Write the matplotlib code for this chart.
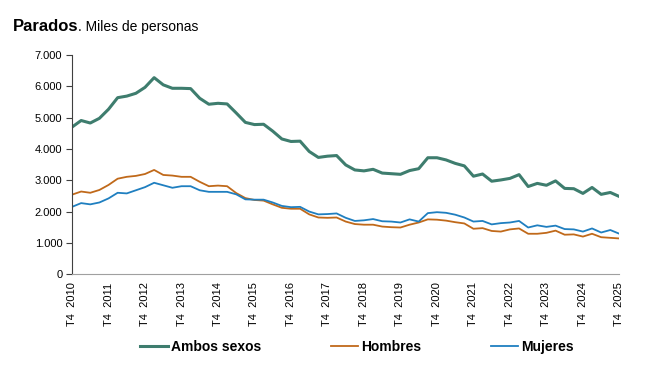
import numpy as np
import matplotlib
matplotlib.use("Agg")
import matplotlib.pyplot as plt
from matplotlib.ticker import FuncFormatter

plt.rcParams['font.family'] = ['Liberation Sans', 'DejaVu Sans']

# Parados, miles de personas, trimestral T4 2010 - T4 2025
ambos = [4700, 4910, 4830, 4980, 5270, 5640, 5690, 5780, 5970, 6280,
         6050, 5940, 5940, 5930, 5620, 5430, 5460, 5440, 5150, 4850,
         4780, 4790, 4570, 4320, 4240, 4250, 3920, 3730, 3770, 3790,
         3490, 3330, 3300, 3350, 3230, 3210, 3190, 3310, 3370, 3720,
         3720, 3650, 3540, 3460, 3130, 3200, 2970, 3010, 3060, 3180,
         2800, 2900, 2840, 2980, 2740, 2730, 2580, 2770, 2550, 2610, 2480]
hombres = [2540, 2640, 2600, 2690, 2850, 3050, 3110, 3140, 3200, 3330,
           3170, 3150, 3110, 3110, 2950, 2810, 2830, 2810, 2590, 2430,
           2370, 2350, 2230, 2120, 2090, 2090, 1910, 1810, 1800, 1810,
           1680, 1600, 1580, 1580, 1520, 1500, 1490, 1580, 1650, 1750,
           1740, 1710, 1660, 1620, 1450, 1470, 1380, 1360, 1430, 1460,
           1290, 1290, 1320, 1390, 1260, 1270, 1200, 1290, 1180, 1160, 1140]
mujeres = [2150, 2270, 2230, 2290, 2420, 2600, 2580, 2680, 2780, 2920,
           2840, 2760, 2810, 2810, 2680, 2630, 2630, 2630, 2550, 2390,
           2380, 2380, 2290, 2180, 2140, 2150, 2000, 1910, 1920, 1940,
           1800, 1700, 1720, 1760, 1690, 1680, 1650, 1750, 1680, 1950,
           1980, 1960, 1900, 1810, 1680, 1700, 1590, 1630, 1650, 1700,
           1490, 1560, 1510, 1550, 1440, 1430, 1360, 1460, 1330, 1410, 1290]
years = list(range(2010, 2026))
tick_labels = ["T4  %d" % y for y in years]

x = np.arange(len(ambos))

fig = plt.figure(figsize=(6.7, 3.75), dpi=100)
ax = fig.add_axes([0.1075, 0.269, 0.817, 0.584])

c_ambos = '#3E7D6E'
c_hom = '#C0691A'
c_muj = '#1F7FC0'

ax.plot(x, ambos, color=c_ambos, lw=2.2, label='Ambos sexos', solid_joinstyle='round')
ax.plot(x, hombres, color=c_hom, lw=1.3, label='Hombres')
ax.plot(x, mujeres, color=c_muj, lw=1.3, label='Mujeres')

ax.set_xlim(0, len(ambos) - 1)
ax.set_ylim(0, 7000)
ax.set_yticks(np.arange(0, 7001, 1000))
ax.yaxis.set_major_formatter(FuncFormatter(lambda v, p: f"{int(v):,}".replace(",", ".")))
ax.set_xticks(x[::4])
ax.set_xticklabels(tick_labels, rotation=90, fontsize=8)
ax.tick_params(axis='y', labelsize=8, length=4, width=0.8, color='#404040', pad=3)
ax.tick_params(axis='x', length=0, pad=6)

for s in ['top', 'right']:
    ax.spines[s].set_visible(False)
ax.spines['left'].set_color('#404040')
ax.spines['bottom'].set_color('#a0a0a0')

fig.text(13 / 670, 1 - 31 / 375, "Parados", fontsize=12, fontweight='bold', va='baseline')
fig.text(77.5 / 670, 1 - 31 / 375, ". Miles de personas", fontsize=10, va='baseline')

leg = fig.legend(loc='center', bbox_to_anchor=(0.533, 1 - 347 / 375), ncol=3,
                 frameon=False, handlelength=2.0, handletextpad=0.2,
                 columnspacing=5.0, prop={'weight': 'bold', 'size': 10})

fig.savefig('out.png', dpi=100)
